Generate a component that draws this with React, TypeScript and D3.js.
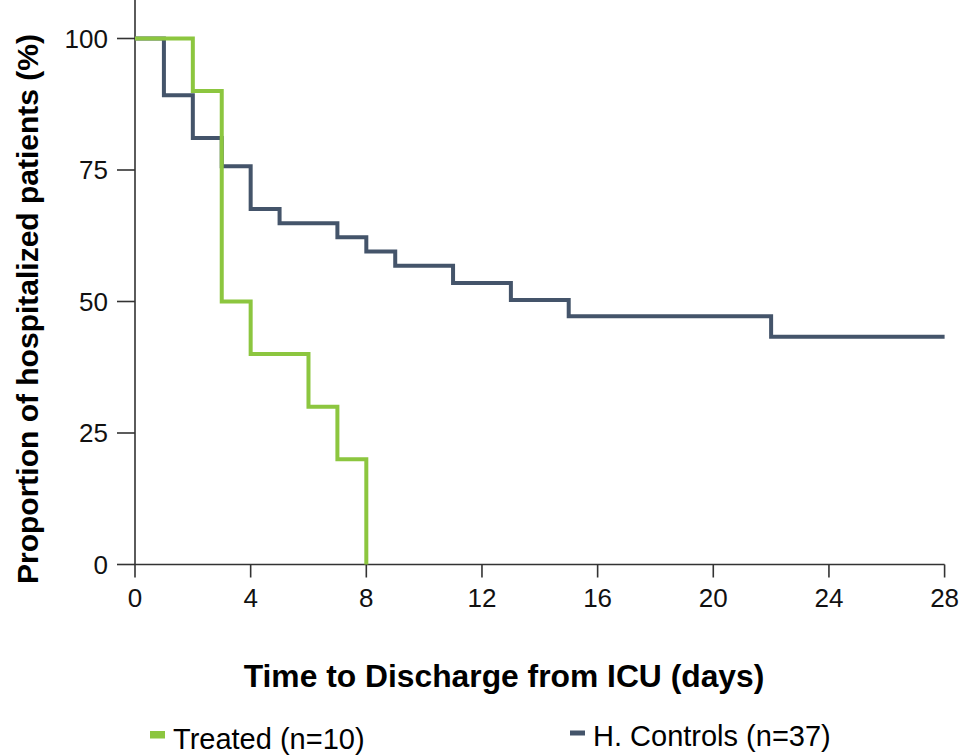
import React, { useRef, useEffect } from "react";
import * as d3 from "d3";

// Kaplan-Meier steps: [day, % still hospitalized]
const treatedDays = [0, 2, 3, 4, 6, 7, 8];
const treatedPct = [100, 90, 50, 40, 30, 20, 0];

const controlDays = [0, 1, 2, 3, 4, 5, 7, 8, 9, 11, 13, 15, 22, 28];
const controlPct = [100, 89.2, 81.1, 75.7, 67.6, 64.9, 62.2, 59.5, 56.8, 53.5, 50.3, 47.2, 43.3, 43.3];

const xTicks = [0, 4, 8, 12, 16, 20, 24, 28];
const yTicks = [0, 25, 50, 75, 100];

const seriesNames = ["Treated (n=10)", "H. Controls (n=37)"];
const seriesColors = ["#8cc63f", "#44546a"];

const W = 966;
const H = 756;

export default function App() {
  const ref = useRef<SVGSVGElement>(null);

  useEffect(() => {
    if (!ref.current) return;
    const svg = d3.select(ref.current);
    svg.selectAll("*").remove();

    const x = d3.scaleLinear().domain([0, 28]).range([135, 944.6]);
    const y = d3.scaleLinear().domain([0, 100]).range([564.5, 38.5]);
    const font = "'Liberation Sans', Arial, sans-serif";

    const line = d3
      .line<[number, number]>()
      .x((d) => x(d[0]))
      .y((d) => y(d[1]))
      .curve(d3.curveStepAfter);

    const series: [number, number][][] = [
      treatedDays.map((d, i) => [d, treatedPct[i]]),
      controlDays.map((d, i) => [d, controlPct[i]]),
    ];

    // axes
    const ax = svg.append("g").attr("stroke", "#333").attr("stroke-width", 1.6);
    ax.append("line").attr("x1", x(0)).attr("x2", x(0)).attr("y1", 0).attr("y2", y(0));
    ax.append("line").attr("x1", x(0)).attr("x2", x(28)).attr("y1", y(0)).attr("y2", y(0));
    ax.selectAll(".xt")
      .data(xTicks)
      .enter()
      .append("line")
      .attr("x1", (d) => x(d))
      .attr("x2", (d) => x(d))
      .attr("y1", y(0))
      .attr("y2", y(0) + 13);
    ax.selectAll(".yt")
      .data(yTicks)
      .enter()
      .append("line")
      .attr("x1", x(0) - 18)
      .attr("x2", x(0))
      .attr("y1", (d) => y(d))
      .attr("y2", (d) => y(d));

    svg.append("g")
      .selectAll("text")
      .data(xTicks)
      .enter()
      .append("text")
      .attr("x", (d) => x(d))
      .attr("y", 607)
      .attr("text-anchor", "middle")
      .attr("font-family", font)
      .attr("font-size", 26)
      .attr("fill", "#111")
      .text((d) => d);

    svg.append("g")
      .selectAll("text")
      .data(yTicks)
      .enter()
      .append("text")
      .attr("x", 108)
      .attr("y", (d) => y(d))
      .attr("dy", "0.35em")
      .attr("text-anchor", "end")
      .attr("font-family", font)
      .attr("font-size", 26)
      .attr("fill", "#111")
      .text((d) => d);

    // curves: controls first so the treated curve sits on top
    svg.append("g")
      .selectAll("path")
      .data([series[1], series[0]])
      .enter()
      .append("path")
      .attr("d", (d) => line(d))
      .attr("fill", "none")
      .attr("stroke", (_, i) => seriesColors[1 - i])
      .attr("stroke-width", 4)
      .attr("stroke-linejoin", "miter");

    // axis titles
    svg.append("text")
      .attr("x", 504)
      .attr("y", 687)
      .attr("text-anchor", "middle")
      .attr("font-family", font)
      .attr("font-weight", "bold")
      .attr("font-size", 31.8)
      .attr("fill", "#000")
      .text("Time to Discharge from ICU (days)");

    svg.append("text")
      .attr("transform", "translate(38,309) rotate(-90)")
      .attr("text-anchor", "middle")
      .attr("font-family", font)
      .attr("font-weight", "bold")
      .attr("font-size", 30)
      .attr("fill", "#000")
      .text("Proportion of hospitalized patients (%)");

    // legend
    const legendX = [150, 570];
    const legendY = [749, 746];
    const leg = svg.append("g");
    seriesNames.forEach((name, i) => {
      leg.append("rect")
        .attr("x", legendX[i])
        .attr("y", i === 0 ? 731 : 730.5)
        .attr("width", 15)
        .attr("height", i === 0 ? 7.5 : 5)
        .attr("fill", seriesColors[i]);
      leg.append("text")
        .attr("x", legendX[i] + 23)
        .attr("y", legendY[i])
        .attr("font-family", font)
        .attr("font-size", 29)
        .attr("fill", "#000")
        .text(name);
    });
  }, []);

  return (
    <svg
      ref={ref}
      width={W}
      height={H}
      style={{ position: "absolute", left: 0, top: 0, background: "#fff" }}
    />
  );
}
